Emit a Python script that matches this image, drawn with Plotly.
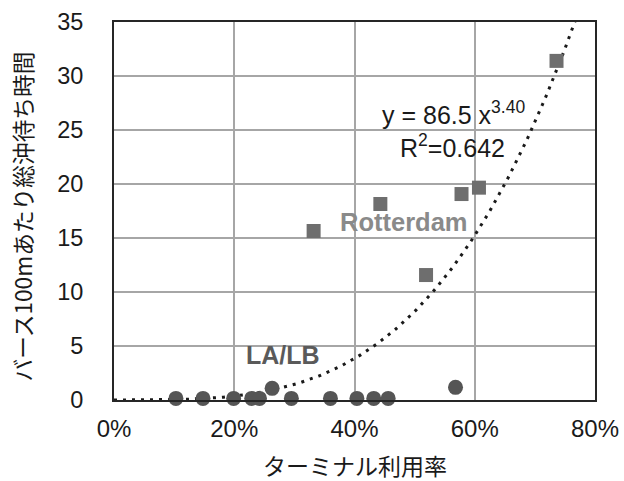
import numpy as np
import plotly.graph_objects as go

# LA/LB terminals (circles)
la_util = [0.103, 0.148, 0.199, 0.229, 0.242, 0.263, 0.295, 0.360, 0.404, 0.432, 0.456, 0.568]
la_wait = [0.15, 0.15, 0.15, 0.15, 0.15, 1.08, 0.15, 0.15, 0.15, 0.15, 0.15, 1.17]

# Rotterdam terminals (squares)
rt_util = [0.332, 0.443, 0.519, 0.578, 0.607, 0.736]
rt_wait = [15.65, 18.15, 11.57, 19.07, 19.66, 31.4]

# Power-law trendline y = a * x^b
trend_a = 86.5
trend_b = 3.40
trend_x = np.linspace(0.0, 0.77, 200)
trend_y = trend_a * trend_x ** trend_b

x_ticks = [0, 0.2, 0.4, 0.6, 0.8]
x_ticklabels = ["0%", "20%", "40%", "60%", "80%"]
y_ticks = [0, 5, 10, 15, 20, 25, 30, 35]

FONT = "Liberation Sans, Arial, Noto Sans CJK JP, sans-serif"
JFONT = "Noto Sans CJK JP, Liberation Sans, sans-serif"

W, H = 624, 481
ML, MR, MT, MB = 114, 29, 22, 81
pw = W - ML - MR
ph = H - MT - MB

fig = go.Figure()
fig.add_trace(go.Scatter(
    x=trend_x, y=trend_y, mode="lines",
    line=dict(color="#1a1a1a", width=3, dash="3px,6px"),
    hoverinfo="skip", showlegend=False))
fig.add_trace(go.Scatter(
    x=rt_util, y=rt_wait, mode="markers",
    marker=dict(symbol="square", size=14, color="#6e6e6e"),
    cliponaxis=False, showlegend=False))
fig.add_trace(go.Scatter(
    x=la_util, y=la_wait, mode="markers",
    marker=dict(symbol="circle", size=15, color="#555555"),
    cliponaxis=False, showlegend=False))

fig.add_annotation(x=0.443, y=26.6, xref="x", yref="y", xanchor="left", yanchor="middle",
                   text="y = 86.5 x<sup>3.40</sup>", showarrow=False,
                   font=dict(family=FONT, size=25, color="#1a1a1a"))
fig.add_annotation(x=0.473, y=23.5, xref="x", yref="y", xanchor="left", yanchor="middle",
                   text="R<sup>2</sup>=0.642", showarrow=False,
                   font=dict(family=FONT, size=25, color="#1a1a1a"))
fig.add_annotation(x=0.483, y=16.5, xref="x", yref="y", xanchor="center", yanchor="middle",
                   text="<b>Rotterdam</b>", showarrow=False,
                   font=dict(family=FONT, size=25.5, color="#8a8a8a"))
fig.add_annotation(x=0.2805, y=4.17, xref="x", yref="y", xanchor="center", yanchor="middle",
                   text="<b>LA/LB</b>", showarrow=False,
                   font=dict(family=FONT, size=25, color="#5a5a5a"))

# axis titles
fig.add_annotation(x=(355 - ML) / pw, y=(H - MB - 465) / ph, xref="paper", yref="paper",
                   showarrow=False, text="ターミナル利用率",
                   font=dict(family=JFONT, size=23, color="#1a1a1a"),
                   xanchor="center", yanchor="middle")
fig.add_annotation(x=(22 - ML) / pw, y=(H - MB - 216.5) / ph, xref="paper", yref="paper",
                   showarrow=False, text="バース100mあたり総沖待ち時間", textangle=-90,
                   font=dict(family=JFONT, size=22.7, color="#1a1a1a"),
                   xanchor="center", yanchor="middle")

fig.update_layout(
    width=W, height=H,
    margin=dict(l=ML, r=MR, t=MT, b=MB, autoexpand=False),
    plot_bgcolor="white", paper_bgcolor="white",
    font=dict(family=FONT, size=23, color="#1a1a1a"),
)
fig.update_xaxes(
    range=[0, 0.8], tickvals=x_ticks, ticktext=x_ticklabels,
    showgrid=True, gridcolor="#a6a6a6", gridwidth=1.5,
    showline=True, linecolor="#262626", linewidth=2, mirror=True,
    zeroline=False, ticks="", ticklabelstandoff=6, automargin=False,
    tickfont=dict(family=FONT, size=24, color="#1a1a1a"),
)
fig.update_yaxes(
    range=[0, 35], tickvals=y_ticks,
    showgrid=True, gridcolor="#a6a6a6", gridwidth=1.5,
    showline=True, linecolor="#262626", linewidth=2, mirror=True,
    zeroline=False, ticks="outside", ticklen=24, tickcolor="rgba(0,0,0,0)",
    automargin=False,
    tickfont=dict(family=FONT, size=23.5, color="#1a1a1a"),
)

fig.write_html("out.html", config={"displayModeBar": False},
               post_script="document.body.style.margin='0';document.body.style.overflow='hidden';")
